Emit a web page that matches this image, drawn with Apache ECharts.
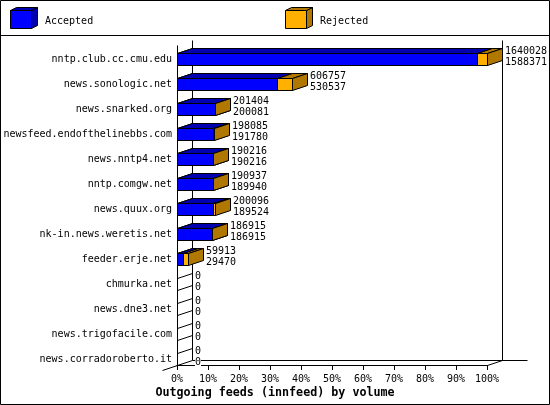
<!DOCTYPE html>
<html><head><meta charset="utf-8">
<style>html,body{margin:0;padding:0;background:#fff}#c{width:550px;height:405px}</style>
<script src="https://cdn.jsdelivr.net/npm/echarts@6/dist/echarts.min.js"></script>
</head><body><div id="c"></div>
<script>
const categories = ['nntp.club.cc.cmu.edu','news.sonologic.net','news.snarked.org','newsfeed.endofthelinebbs.com','news.nntp4.net','nntp.comgw.net','news.quux.org','nk-in.news.weretis.net','feeder.erje.net','chmurka.net','news.dne3.net','news.trigofacile.com','news.corradoroberto.it'];
const offered = [1640028,606757,201404,198085,190216,190937,200096,186915,59913,0,0,0,0];
const accepted = [1588371,530537,200081,191780,190216,189940,189524,186915,29470,0,0,0,0];
const xTicks = [0,10,20,30,40,50,60,70,80,90,100];

const FONT = '"DejaVu Sans Mono"';
const DX = 15, DY = 5, BAR_H = 12;
const maxV = Math.max(...offered);
const pct = v => v / maxV * 100;
const BLUE = '#0000ff', BLUE_D = '#0000b0', ORANGE = '#ffb000', ORANGE_D = '#b07800';
const chart = echarts.init(document.getElementById('c'), null, {renderer:'canvas', devicePixelRatio:1});

function box(x0, x1, top, front, dark) {
  const st = {stroke:'#000', lineWidth:1};
  const b = top + BAR_H;
  return [
    {type:'polygon', shape:{points:[[x0,top],[x0+DX,top-DY],[x1+DX,top-DY],[x1,top]]}, style:{fill:dark,...st}},
    {type:'polygon', shape:{points:[[x1,top],[x1+DX,top-DY],[x1+DX,b-DY],[x1,b]]}, style:{fill:dark,...st}},
    {type:'rect', shape:{x:x0,y:top,width:x1-x0,height:BAR_H}, style:{fill:front,...st}}
  ];
}
const snap = v => Math.round(v) + 0.5;

function renderAccepted(params, api) {
  const i = api.value(0);
  const p = api.coord([api.value(1), i]);
  const o = api.coord([0, i]);
  if (api.value(1) <= 0) return {type:'group', children:[]};
  return {type:'group', children: box(snap(o[0]), snap(p[0]), snap(p[1]), BLUE, BLUE_D)};
}
function renderRejected(params, api) {
  const i = api.value(0);
  const a = api.coord([api.value(1), i]);
  const b = api.coord([api.value(2), i]);
  const kids = [];
  const top = snap(a[1]);
  if (api.value(2) > 0) kids.push(...box(snap(a[0]), snap(b[0]), top, ORANGE, ORANGE_D));
  const tx = Math.round(b[0]) + DX + 3;
  const txt = (s, y) => ({type:'text', style:{x:tx, y:y, text:String(s), font:'10px '+FONT, fill:'#000', backgroundColor:'#fff', textVerticalAlign:'middle'}});
  kids.push(txt(api.value(3), top - 2.5));
  kids.push(txt(api.value(4), top + 8.5));
  return {type:'group', children:kids};
}
function renderWalls(params, api) {
  if (params.dataIndex !== 0) return;
  const cs = params.coordSys;
  const L = cs.x + 0.5, R = cs.x + cs.width + 0.5, B = cs.y + cs.height + 0.5, T = cs.y + DY + 0.5;
  const ln = (x1,y1,x2,y2) => ({type:'line', shape:{x1,y1,x2,y2}, style:{stroke:'#000', lineWidth:1}});
  const kids = [ln(L,T,L,B), ln(L+DX,T-DY,L+DX,B-DY), ln(R+DX,T-DY,R+DX,B-DY), ln(L+DX,B-DY,R+DX+25,B-DY), ln(L-DX,B+DY,L,B), ln(R,B,R+DX,B-DY)];
  const step = cs.height / categories.length / 2;
  for (let y = cs.y + cs.height; y >= cs.y + DY; y -= step) {
    const py = Math.round(y) + 0.5;
    kids.push(ln(L, py, L+DX, py-DY));
  }
  return {type:'group', children:kids};
}

const rows = categories.map((c,i) => [i, pct(accepted[i]), pct(offered[i]), offered[i], accepted[i]]);
const legendBox = (x, front, dark) => ({type:'group', children:[
  {type:'polygon', shape:{points:[[x+21.5,10.5],[x+27.5,7.5],[x+27.5,25.5],[x+21.5,28.5]]}, style:{fill:dark,stroke:'#000',lineWidth:1}},
  {type:'polygon', shape:{points:[[x+.5,10.5],[x+6.5,7.5],[x+27.5,7.5],[x+21.5,10.5]]}, style:{fill:dark,stroke:'#000',lineWidth:1}},
  {type:'rect', shape:{x:x+.5,y:10.5,width:21,height:18}, style:{fill:front,stroke:'#000',lineWidth:1}}
]});

chart.setOption({
  animation:false,
  backgroundColor:'#fff',
  title:{text:'Outgoing feeds (innfeed) by volume', left:'center', top:386, padding:0,
    textStyle:{color:'#000', fontFamily:FONT, fontWeight:'bold', fontSize:11.7, lineHeight:14}},
  grid:{left:177, top:40, width:310, height:325, containLabel:false},
  xAxis:{type:'value', min:0, max:100, interval:10,
    axisLine:{show:true, lineStyle:{color:'#000', width:1}},
    axisTick:{show:true, length:5, lineStyle:{color:'#000', width:1}},
    splitLine:{show:false},
    axisLabel:{formatter:v => xTicks.includes(v) ? v+'%' : '', color:'#000', fontFamily:FONT, fontSize:10, margin:9, hideOverlap:false,
      showMinLabel:true, showMaxLabel:true}},
  yAxis:{type:'category', inverse:true, data:categories,
    axisLine:{show:false}, axisTick:{show:false}, splitLine:{show:false},
    axisLabel:{color:'#000', fontFamily:FONT, fontSize:10, margin:5, interval:0, verticalAlign:'top', lineHeight:13}},
  series:[
    {type:'custom', name:'Axes', renderItem:renderWalls, data:[[0,0]], silent:true, clip:false, z:1},
    {type:'custom', name:'Accepted', renderItem:renderAccepted, data:rows, clip:false, z:2, encode:{x:1,y:0}},
    {type:'custom', name:'Rejected', renderItem:renderRejected, data:rows, clip:false, z:3, encode:{x:2,y:0}}
  ],
  graphic:[
    {type:'rect', silent:true, z:-1, shape:{x:0.5,y:0.5,width:549,height:404}, style:{fill:'none',stroke:'#000',lineWidth:1}},
    {type:'line', silent:true, shape:{x1:0,y1:35.5,x2:550,y2:35.5}, style:{stroke:'#000',lineWidth:1}},
    legendBox(10, BLUE, BLUE_D),
    legendBox(285, ORANGE, ORANGE_D),
    {type:'text', left:45, top:16, style:{text:'Accepted', font:'10px '+FONT, fill:'#000'}},
    {type:'text', left:320, top:16, style:{text:'Rejected', font:'10px '+FONT, fill:'#000'}}
  ]
});
</script></body></html>
